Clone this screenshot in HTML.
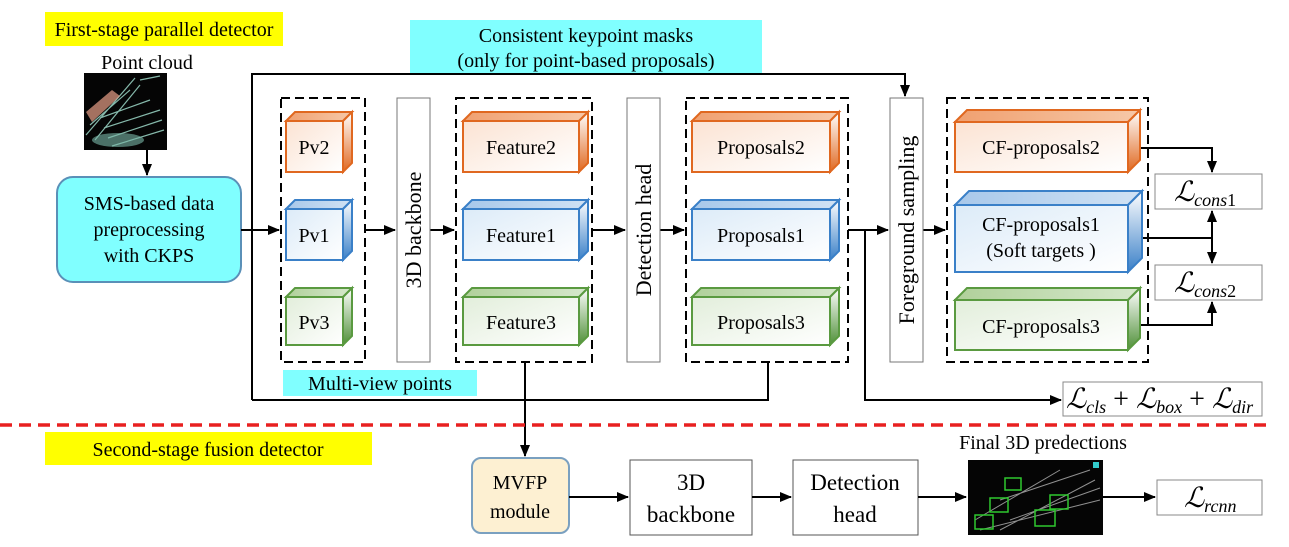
<!DOCTYPE html>
<html><head><meta charset="utf-8"><style>
body{margin:0;background:#fff}
svg{display:block;font-family:"Liberation Serif",serif}
</style></head><body>
<svg width="1289" height="547" viewBox="0 0 1289 547" xmlns="http://www.w3.org/2000/svg">
<defs>
<marker id="a" markerWidth="12" markerHeight="10" refX="11" refY="5" orient="auto" markerUnits="userSpaceOnUse"><path d="M0,0L12,5L0,10z" fill="#000"/></marker>
<linearGradient id="go" x1="0" y1="0" x2="1" y2="1"><stop offset="0" stop-color="#fbe3d3"/><stop offset="1" stop-color="#fff"/></linearGradient>
<linearGradient id="gb" x1="0" y1="0" x2="1" y2="1"><stop offset="0" stop-color="#dcebf8"/><stop offset="1" stop-color="#fff"/></linearGradient>
<linearGradient id="gg" x1="0" y1="0" x2="1" y2="1"><stop offset="0" stop-color="#e2eedb"/><stop offset="1" stop-color="#fff"/></linearGradient>
<linearGradient id="so" x1="0" y1="0" x2="0" y2="1"><stop offset="0" stop-color="#fff"/><stop offset="1" stop-color="#e06820"/></linearGradient>
<linearGradient id="sb" x1="0" y1="0" x2="0" y2="1"><stop offset="0" stop-color="#fff"/><stop offset="1" stop-color="#3a80c8"/></linearGradient>
<linearGradient id="sg" x1="0" y1="0" x2="0" y2="1"><stop offset="0" stop-color="#fff"/><stop offset="1" stop-color="#4f9038"/></linearGradient>
<linearGradient id="to" x1="0" y1="0" x2="1" y2="0"><stop offset="0" stop-color="#f0a070"/><stop offset="1" stop-color="#f6c8a8"/></linearGradient>
<linearGradient id="tb" x1="0" y1="0" x2="1" y2="0"><stop offset="0" stop-color="#a8c8ea"/><stop offset="1" stop-color="#d0e2f4"/></linearGradient>
<linearGradient id="tg" x1="0" y1="0" x2="1" y2="0"><stop offset="0" stop-color="#b0d09a"/><stop offset="1" stop-color="#d6e8cc"/></linearGradient>
</defs>

<rect x="45" y="12" width="238" height="34" fill="#ffff00"/>
<text x="164" y="36" font-size="20" text-anchor="middle">First-stage parallel detector</text>
<rect x="410" y="20" width="352" height="53" fill="#80ffff"/>
<text x="586" y="42" font-size="20" text-anchor="middle">Consistent keypoint masks</text>
<text x="586" y="67" font-size="20" text-anchor="middle">(only for point-based proposals)</text>

<text x="147" y="69" font-size="20" text-anchor="middle">Point cloud</text>
<rect x="84" y="73" width="83" height="77" fill="#050505"/>
<g stroke="#9cd8c8" stroke-width="1.2" fill="none" opacity=".85">
<path d="M86,135 L135,78 M90,125 L130,90 M95,140 L140,85 M100,118 L150,100 M104,128 L160,110 M108,138 L162,120 M112,146 L164,130 M140,80 L160,76"/>
</g>
<path d="M86,112 L112,90 L120,96 L92,122z" fill="#e8a088" opacity=".7"/>
<ellipse cx="118" cy="140" rx="26" ry="7" fill="#7ab8a8" opacity=".6"/>
<line x1="147" y1="150" x2="147" y2="175" stroke="#000" stroke-width="2" marker-end="url(#a)"/>

<rect x="57" y="177" width="184" height="105" rx="16" fill="#80ffff" stroke="#5a90b8" stroke-width="2"/>
<text x="149" y="210" font-size="20" text-anchor="middle">SMS-based data</text>
<text x="149" y="236" font-size="20" text-anchor="middle">preprocessing</text>
<text x="149" y="262" font-size="20" text-anchor="middle">with CKPS</text>

<g stroke="#000" stroke-width="2" fill="none">
<polyline points="252,400 252,74 905,74 905,96" marker-end="url(#a)"/>
<polyline points="252,400 768,400 768,362"/>
<line x1="241" y1="230" x2="279" y2="230" marker-end="url(#a)"/>
<line x1="365" y1="230" x2="395" y2="230" marker-end="url(#a)"/>
<line x1="430" y1="230" x2="454" y2="230" marker-end="url(#a)"/>
<line x1="592" y1="230" x2="625" y2="230" marker-end="url(#a)"/>
<line x1="660" y1="230" x2="684" y2="230" marker-end="url(#a)"/>
<line x1="848" y1="230" x2="888" y2="230" marker-end="url(#a)"/>
<line x1="923" y1="230" x2="945" y2="230" marker-end="url(#a)"/>
<polyline points="865,230 865,400 1061,400" marker-end="url(#a)"/>
<polyline points="1128,148 1212,148 1212,172" marker-end="url(#a)"/>
<polyline points="1128,238 1212,238"/>
<line x1="1212" y1="238" x2="1212" y2="211" marker-end="url(#a)"/>
<line x1="1212" y1="238" x2="1212" y2="263" marker-end="url(#a)"/>
<polyline points="1128,325 1212,325 1212,302" marker-end="url(#a)"/>
<line x1="525" y1="362" x2="525" y2="456" marker-end="url(#a)"/>
</g>

<rect x="283" y="370" width="194" height="26" fill="#80ffff"/>
<text x="380" y="390" font-size="20" text-anchor="middle">Multi-view points</text>

<g stroke="#000" stroke-width="2" fill="none" stroke-dasharray="9,5">
<rect x="281" y="98" width="84" height="264"/>
<rect x="456" y="98" width="136" height="264"/>
<rect x="686" y="98" width="162" height="264"/>
<rect x="947" y="98" width="201" height="264"/>
</g>
<g fill="#fff" stroke="#777" stroke-width="1">
<rect x="397" y="98" width="33" height="264"/>
<rect x="627" y="98" width="33" height="264"/>
<rect x="890" y="98" width="33" height="264"/>
</g>
<text transform="translate(421,230) rotate(-90)" font-size="22" text-anchor="middle">3D backbone</text>
<text transform="translate(651,230) rotate(-90)" font-size="22" text-anchor="middle">Detection head</text>
<text transform="translate(914,230) rotate(-90)" font-size="22" text-anchor="middle">Foreground sampling</text>

<g stroke-width="2">
<g stroke="#e06820">
<polygon points="286,121 295,112 352,112 343,121" fill="url(#to)"/><polygon points="343,121 352,112 352,163 343,172" fill="url(#so)"/><rect x="286" y="121" width="57" height="51" fill="url(#go)"/>
<polygon points="463,121 472,112 588,112 579,121" fill="url(#to)"/><polygon points="579,121 588,112 588,163 579,172" fill="url(#so)"/><rect x="463" y="121" width="116" height="51" fill="url(#go)"/>
<polygon points="692,121 701,112 839,112 830,121" fill="url(#to)"/><polygon points="830,121 839,112 839,163 830,172" fill="url(#so)"/><rect x="692" y="121" width="138" height="51" fill="url(#go)"/>
<polygon points="955,122 967,110 1140,110 1128,122" fill="url(#to)"/><polygon points="1128,122 1140,110 1140,160 1128,172" fill="url(#so)"/><rect x="955" y="122" width="173" height="50" fill="url(#go)"/>
</g>
<g stroke="#3a80c8">
<polygon points="286,209 295,200 352,200 343,209" fill="url(#tb)"/><polygon points="343,209 352,200 352,251 343,260" fill="url(#sb)"/><rect x="286" y="209" width="57" height="51" fill="url(#gb)"/>
<polygon points="463,209 472,200 588,200 579,209" fill="url(#tb)"/><polygon points="579,209 588,200 588,251 579,260" fill="url(#sb)"/><rect x="463" y="209" width="116" height="51" fill="url(#gb)"/>
<polygon points="692,209 701,200 839,200 830,209" fill="url(#tb)"/><polygon points="830,209 839,200 839,251 830,260" fill="url(#sb)"/><rect x="692" y="209" width="138" height="51" fill="url(#gb)"/>
<polygon points="955,205 969,191 1142,191 1128,205" fill="url(#tb)"/><polygon points="1128,205 1142,191 1142,258 1128,272" fill="url(#sb)"/><rect x="955" y="205" width="173" height="67" fill="url(#gb)"/>
</g>
<g stroke="#5a9a40">
<polygon points="286,297 295,288 352,288 343,297" fill="url(#tg)"/><polygon points="343,297 352,288 352,336 343,345" fill="url(#sg)"/><rect x="286" y="297" width="57" height="48" fill="url(#gg)"/>
<polygon points="463,297 472,288 588,288 579,297" fill="url(#tg)"/><polygon points="579,297 588,288 588,336 579,345" fill="url(#sg)"/><rect x="463" y="297" width="116" height="48" fill="url(#gg)"/>
<polygon points="692,297 701,288 839,288 830,297" fill="url(#tg)"/><polygon points="830,297 839,288 839,336 830,345" fill="url(#sg)"/><rect x="692" y="297" width="138" height="48" fill="url(#gg)"/>
<polygon points="955,300 967,288 1140,288 1128,300" fill="url(#tg)"/><polygon points="1128,300 1140,288 1140,338 1128,350" fill="url(#sg)"/><rect x="955" y="300" width="173" height="50" fill="url(#gg)"/>
</g>
</g>
<g font-size="20" text-anchor="middle">
<text x="314" y="154">Pv2</text><text x="314" y="242">Pv1</text><text x="314" y="329">Pv3</text>
<text x="521" y="154">Feature2</text><text x="521" y="242">Feature1</text><text x="521" y="329">Feature3</text>
<text x="761" y="154">Proposals2</text><text x="761" y="242">Proposals1</text><text x="761" y="329">Proposals3</text>
<text x="1041" y="154">CF-proposals2</text><text x="1041" y="231">CF-proposals1</text><text x="1041" y="257">(Soft targets )</text><text x="1041" y="333">CF-proposals3</text>
</g>

<g fill="#fff" stroke="#888" stroke-width="1">
<rect x="1155" y="174" width="107" height="35"/>
<rect x="1155" y="265" width="107" height="35"/>
<rect x="1063" y="382" width="199" height="34"/>
<rect x="1157" y="480" width="105" height="35"/>
</g>
<g font-style="italic" font-size="28">
<text x="1174" y="201">ℒ<tspan font-size="18" dy="5">cons</tspan><tspan font-style="normal" font-size="18">1</tspan></text>
<text x="1174" y="292">ℒ<tspan font-size="18" dy="5">cons</tspan><tspan font-style="normal" font-size="18">2</tspan></text>
<text x="1066" y="408">ℒ<tspan font-size="18" dy="5">cls</tspan><tspan font-style="normal" dy="-5"> + </tspan>ℒ<tspan font-size="18" dy="5">box</tspan><tspan font-style="normal" dy="-5"> + </tspan>ℒ<tspan font-size="18" dy="5">dir</tspan></text>
<text x="1184" y="507">ℒ<tspan font-size="18" dy="5">rcnn</tspan></text>
</g>

<line x1="0" y1="425" x2="1270" y2="425" stroke="#e82020" stroke-width="3.5" stroke-dasharray="12,7"/>
<rect x="45" y="432" width="327" height="33" fill="#ffff00"/>
<text x="208" y="456" font-size="20" text-anchor="middle">Second-stage fusion detector</text>

<rect x="472" y="458" width="97" height="75" rx="9" fill="#fdf0d2" stroke="#7aa0c0" stroke-width="2"/>
<text x="520" y="489" font-size="20" text-anchor="middle">MVFP</text>
<text x="520" y="518" font-size="20" text-anchor="middle">module</text>
<rect x="630" y="460" width="122" height="75" fill="#fff" stroke="#555" stroke-width="1"/>
<text x="691" y="490" font-size="23" text-anchor="middle">3D</text>
<text x="691" y="522" font-size="23" text-anchor="middle">backbone</text>
<rect x="793" y="460" width="125" height="75" fill="#fff" stroke="#555" stroke-width="1"/>
<text x="855" y="490" font-size="23" text-anchor="middle">Detection</text>
<text x="855" y="522" font-size="23" text-anchor="middle">head</text>
<text x="1043" y="449" font-size="20" text-anchor="middle">Final 3D predections</text>
<rect x="968" y="460" width="135" height="75" fill="#050505"/>
<g stroke="#ccc" stroke-width="1" opacity=".7" fill="none"><path d="M975,520 L1060,470 M980,530 L1100,500 M1000,530 L1095,480 M1000,500 L1090,470 M1010,520 L1100,488"/></g>
<g stroke="#2ec82e" stroke-width="1.5" fill="none">
<rect x="1005" y="478" width="16" height="12"/><rect x="990" y="498" width="18" height="14"/><rect x="1050" y="495" width="18" height="14"/><rect x="1035" y="510" width="20" height="16"/><rect x="975" y="515" width="18" height="14"/>
</g>
<rect x="1093" y="462" width="6" height="6" fill="#3cc"/>
<g stroke="#000" stroke-width="2">
<line x1="569" y1="497" x2="628" y2="497" marker-end="url(#a)"/>
<line x1="752" y1="497" x2="791" y2="497" marker-end="url(#a)"/>
<line x1="918" y1="497" x2="966" y2="497" marker-end="url(#a)"/>
<line x1="1103" y1="497" x2="1155" y2="497" marker-end="url(#a)"/>
</g>
</svg>
</body></html>
